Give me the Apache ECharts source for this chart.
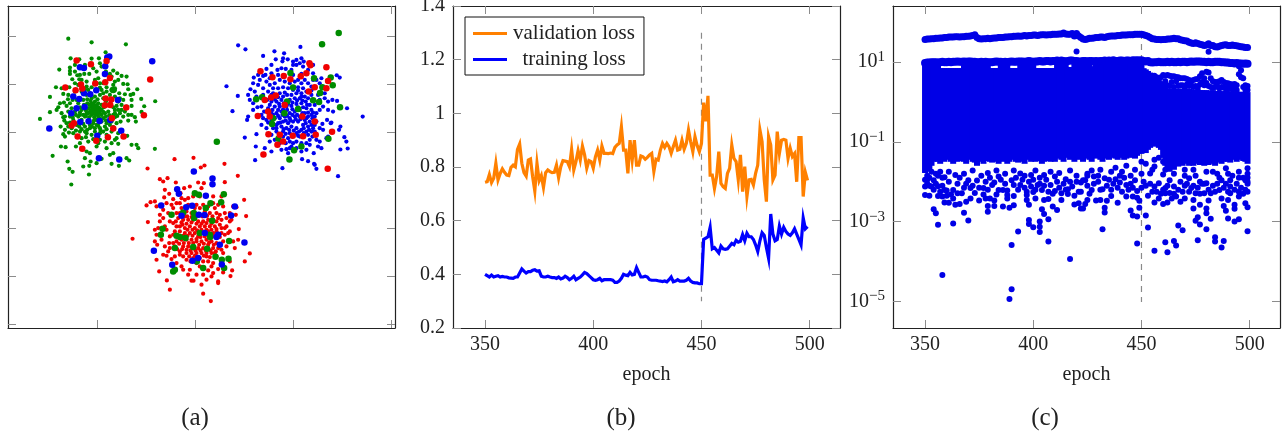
<!DOCTYPE html>
<html><head><meta charset="utf-8">
<script src="https://cdn.jsdelivr.net/npm/echarts@6/dist/echarts.min.js"></script>
<style>html,body{margin:0;padding:0;background:#fff}#c{width:1283px;height:433px}</style></head>
<body><div id="c"></div>
<script>
// ---- panel (a): unlabelled axes, values in arbitrary units
const aXTicks=[292,586,881,1176];
const aYTicks=[110,254,398,541,685,829,973];
const greenSmall=[[205,116],[275,127],[378,133],[317,157],[212,175],[238,178],[275,176],[297,175],[178,209],[210,203],[210,213],[210,222],[305,200],[340,212],[352,220],[365,228],[380,230],[217,238],[232,226],[238,238],[268,222],[253,222],[290,215],[295,235],[335,230],[355,240],[370,252],[383,253],[168,262],[185,265],[208,262],[260,260],[300,263],[345,270],[335,272],[345,265],[385,268],[412,268],[400,282],[392,285],[150,291],[190,282],[205,285],[310,280],[375,283],[360,295],[395,300],[424,297],[466,304],[180,310],[192,308],[170,330],[175,322],[200,318],[210,310],[350,318],[365,315],[380,320],[395,318],[433,319],[425,336],[150,337],[190,352],[195,350],[210,350],[240,345],[260,340],[295,340],[360,340],[370,350],[385,345],[395,345],[405,352],[408,365],[120,357],[182,380],[200,370],[205,380],[215,385],[245,388],[270,385],[300,385],[315,380],[350,370],[362,365],[385,362],[190,403],[195,410],[220,400],[240,395],[260,400],[275,405],[310,395],[335,395],[355,400],[382,408],[240,430],[265,425],[300,420],[335,430],[355,432],[395,435],[410,435],[415,445],[183,440],[197,442],[228,440],[260,455],[340,460],[320,445],[465,447],[158,468],[335,492],[357,498],[380,475],[388,482],[203,485],[255,475],[272,485],[250,500],[268,498],[208,507],[218,516],[290,490],[267,524],[214,554],[305,477],[330,465],[290,440],[270,460],[235,255],[250,300],[262,310],[275,310],[285,305],[295,310],[305,315],[275,320],[285,318],[295,322],[265,325],[275,330],[285,330],[295,332],[305,330],[265,340],[275,345],[285,342],[295,350],[305,345],[315,340],[325,335],[345,330],[250,345],[235,350],[225,335],[215,325],[245,330],[255,350],[245,360],[290,360],[280,370],[270,375],[255,380],[285,385],[295,378],[305,365],[320,370],[330,375],[340,345],[345,340],[220,360],[230,375],[210,368],[255,395],[285,395],[300,400],[320,405],[290,375],[310,355],[260,285],[275,295],[285,290],[300,285],[310,295],[330,285],[345,290],[355,305],[235,310],[245,240],[285,240],[320,262],[340,255],[335,268],[225,275],[265,270],[275,262],[310,250],[352,348],[365,330],[268,315],[281,312],[290,316],[300,326],[312,322],[258,332],[270,336],[280,338],[290,327],[299,338],[310,336],[258,348],[268,352],[283,352],[300,356],[318,350],[328,346],[240,338],[228,345],[218,352],[240,322],[252,315],[262,298],[272,303],[293,298],[318,305],[332,310],[340,322],[355,330],[345,352],[335,365],[318,362],[298,368],[282,362],[265,362],[250,372],[238,380],[262,390],[276,380],[302,392],[320,388],[340,382],[228,392],[207,398],[195,390],[193,362],[185,340],[205,335],[230,300],[218,300],[204,298],[245,275],[255,268],[290,270],[305,270],[320,275],[358,280],[370,300],[375,335],[245,415],[258,412],[280,418],[295,430],[315,425],[350,415],[225,250],[300,250],[345,245],[260,245],[240,225],[225,215],[318,215],[330,222],[280,205],[255,195],[225,195],[300,190],[345,420]];
const blueSmall=[[715,136],[737,148],[790,168],[824,154],[853,160],[828,178],[850,175],[848,184],[864,178],[902,141],[880,185],[890,180],[905,175],[912,185],[940,195],[800,207],[815,195],[833,210],[845,205],[858,207],[880,195],[890,195],[910,200],[1011,226],[1020,233],[762,233],[775,225],[790,228],[797,225],[815,220],[835,225],[680,259],[714,288],[745,285],[752,268],[750,300],[760,310],[773,322],[698,334],[745,350],[742,360],[785,320],[793,335],[985,305],[998,300],[1012,303],[1042,325],[1089,350],[1022,380],[1018,390],[735,413],[770,403],[768,440],[766,481],[795,445],[815,455],[848,505],[865,460],[860,448],[880,430],[907,478],[925,484],[943,492],[945,495],[950,507],[1015,529],[1022,449],[1044,446],[1040,425],[1034,412],[965,445],[955,440],[942,460],[920,450],[905,430],[985,410],[980,415],[993,370],[995,368],[982,360],[968,372],[970,390],[960,385],[945,350],[950,340],[960,330],[970,320],[985,330],[1000,335],[760,330],[785,345],[770,290],[800,360],[815,362],[830,375],[785,375],[800,385],[810,425],[825,420],[845,450],[870,425],[890,425],[930,420],[950,420],[960,425],[800,245],[810,255],[825,250],[840,240],[855,245],[870,250],[885,245],[895,240],[905,250],[915,240],[820,265],[835,265],[850,262],[865,265],[895,262],[910,265],[820,280],[790,285],[805,275],[840,280],[855,278],[875,285],[890,280],[905,280],[915,290],[925,295],[935,285],[830,305],[845,300],[870,300],[885,295],[900,295],[918,305],[930,315],[945,315],[810,315],[825,320],[840,320],[860,320],[875,318],[890,312],[905,310],[920,325],[935,330],[800,335],[815,340],[830,340],[845,335],[870,340],[885,335],[900,330],[915,340],[925,350],[935,345],[790,355],[825,355],[840,355],[855,350],[870,355],[885,350],[900,350],[915,360],[930,365],[945,375],[835,370],[850,365],[865,370],[880,365],[895,365],[910,375],[925,380],[940,385],[820,385],[845,380],[860,385],[875,380],[890,385],[905,390],[920,395],[935,395],[830,395],[850,395],[870,400],[890,400],[850,410],[865,415],[900,410],[925,405],[815,405],[875,440],[890,445],[930,435],[775,255],[765,275],[790,265],[950,240],[965,235],[925,250],[935,260],[955,285],[975,295],[802,300],[815,305],[825,298],[838,312],[852,310],[865,312],[878,308],[892,302],[908,302],[922,315],[805,325],[818,330],[835,330],[850,328],[862,330],[878,328],[895,322],[910,322],[925,338],[940,338],[808,350],[820,345],[835,348],[848,345],[862,348],[878,345],[892,345],[908,340],[920,355],[938,355],[805,368],[818,370],[842,368],[858,362],[872,362],[888,358],[902,358],[918,370],[935,375],[950,365],[830,385],[852,388],[868,390],[882,392],[898,395],[912,385],[928,390],[945,395],[838,405],[858,402],[878,410],[895,408],[912,400],[938,410],[840,430],[858,430],[870,445],[905,455],[920,430],[880,270],[895,272],[905,290],[920,275],[935,272],[850,290],[862,285],[835,292],[815,285],[880,225],[905,222],[875,210],[900,190],[925,210],[940,220],[960,250],[975,280],[960,300],[940,240],[760,250],[780,240],[810,235]];
const redSmall=[[443,506],[524,478],[581,474],[614,497],[603,503],[674,492],[714,528],[480,538],[503,535],[490,545],[528,548],[553,565],[595,548],[612,550],[675,547],[542,580],[508,582],[495,570],[555,600],[570,560],[520,598],[493,593],[733,600],[440,617],[452,607],[465,605],[470,620],[500,610],[540,610],[580,590],[605,565],[640,590],[665,590],[700,620],[710,622],[739,649],[708,645],[444,667],[465,690],[475,685],[490,655],[510,665],[470,705],[398,717],[472,735],[465,725],[508,730],[510,745],[525,740],[695,660],[680,680],[690,695],[717,688],[700,725],[685,700],[705,745],[735,785],[750,761],[490,765],[500,768],[470,780],[515,778],[540,765],[478,815],[501,842],[510,870],[550,810],[575,843],[581,843],[605,855],[610,882],[633,904],[620,840],[635,830],[655,845],[655,850],[670,818],[692,829],[697,812],[690,785],[640,790],[620,770],[600,800],[610,825],[625,812],[570,810],[530,790],[650,770],[670,760],[715,720],[530,640],[545,625],[560,635],[575,640],[600,625],[615,635],[630,640],[645,625],[650,640],[660,645],[675,640],[690,640],[640,660],[625,660],[610,665],[595,665],[580,660],[565,660],[550,660],[535,655],[520,670],[540,680],[555,685],[570,680],[585,685],[600,680],[615,680],[630,680],[645,680],[660,675],[675,685],[525,695],[540,695],[555,700],[570,700],[585,700],[595,710],[610,700],[625,695],[640,700],[650,695],[665,700],[530,725],[545,720],[560,720],[575,720],[590,725],[605,725],[620,720],[635,725],[650,730],[670,725],[550,740],[565,740],[580,745],[595,745],[610,745],[625,735],[640,745],[655,745],[540,755],[560,760],[575,760],[590,760],[605,760],[620,760],[635,760],[580,775],[600,775],[560,780],[625,785],[510,710],[500,690],[520,625],[505,640],[590,615],[565,615],[625,620],[670,620],[690,665],[680,740],[665,785],[548,648],[562,650],[575,652],[592,648],[608,650],[622,648],[638,650],[655,655],[528,665],[545,668],[560,672],[575,668],[590,672],[605,672],[620,670],[635,672],[650,665],[665,660],[530,680],[548,675],[563,690],[578,690],[592,692],[605,690],[620,690],[635,690],[650,688],[665,685],[520,705],[535,708],[550,708],[563,708],[578,708],[590,718],[602,712],[615,710],[630,708],[645,710],[660,712],[675,705],[520,730],[538,732],[552,730],[567,730],[580,730],[598,735],[612,732],[628,728],[642,735],[660,735],[532,748],[547,748],[560,750],[572,752],[587,752],[602,752],[618,752],[632,752],[648,755],[665,750],[550,770],[568,770],[585,768],[612,768],[630,772],[645,760],[572,785],[590,790],[610,785],[635,800],[655,808],[540,640],[555,650],[585,625],[610,615],[640,610],[655,615],[680,655],[600,590],[565,595],[545,595],[530,610],[515,615],[490,630],[480,645],[480,665],[495,680],[485,720],[495,740],[505,755],[525,770],[545,800],[590,825],[565,825],[640,820]];
const redBig=[[230,182],[273,193],[320,183],[243,254],[286,251],[316,247],[330,234],[196,263],[227,271],[247,266],[317,296],[334,299],[315,316],[331,315],[379,323],[336,355],[222,370],[215,377],[340,386],[233,410],[289,423],[371,410],[247,447],[324,412],[432,346],[451,239],[782,214],[818,232],[852,228],[872,238],[903,229],[920,220],[929,190],[932,196],[980,202],[985,243],[980,265],[945,262],[927,275],[795,300],[814,293],[828,287],[805,335],[810,350],[774,348],[855,315],[806,403],[840,405],[850,425],[833,435],[879,408],[910,409],[948,405],[997,396],[791,464],[984,507],[908,350],[945,365]];
const blueBig=[[328,170],[322,173],[240,202],[252,204],[316,199],[315,222],[289,271],[271,283],[252,280],[238,297],[254,321],[230,325],[214,340],[241,366],[266,364],[299,363],[331,360],[364,393],[292,408],[297,475],[358,479],[148,386],[457,184],[354,300],[220,290],[582,515],[638,536],[638,553],[532,568],[537,582],[618,588],[484,617],[705,620],[694,647],[577,618],[559,622],[597,645],[614,646],[545,648],[655,705],[650,712],[615,700],[734,728],[660,735],[462,753],[517,795],[666,794],[578,783],[595,775]];
const greenBig=[[285,325],[275,335],[290,340],[340,270],[872,219],[943,235],[993,233],[999,256],[968,262],[961,279],[940,301],[958,306],[1021,322],[787,292],[769,298],[820,355],[862,305],[895,327],[880,263],[854,340],[986,417],[836,417],[905,440],[883,451],[869,479],[967,133],[1017,99],[817,372],[651,426],[515,645],[550,638],[585,580],[597,585],[672,583],[664,607],[632,610],[618,625],[582,640],[583,655],[488,687],[483,705],[530,708],[540,712],[557,715],[600,700],[630,705],[631,712],[688,724],[580,742],[622,747],[647,771],[686,777],[666,780],[591,785],[610,805],[525,810],[520,815],[673,805],[637,663],[525,745]];

// ---- panel (b): one value per epoch, 350..499
const epochs=[];for(let e=350;e<500;e++)epochs.push(e);
const validationLoss=[.743,.745,.772,.742,.758,.814,.752,.776,.793,.78,.77,.768,.799,.807,.801,.866,.886,.814,.779,.766,.826,.83,.764,.71,.814,.749,.768,.724,.779,.789,.783,.779,.78,.807,.76,.801,.824,.822,.82,.801,.866,.789,.82,.861,.826,.878,.845,.795,.824,.82,.795,.838,.863,.826,.878,.851,.851,.85,.852,.85,.873,.882,.888,.95,.863,.863,.776,.9,.826,.9,.807,.807,.841,.838,.829,.836,.845,.851,.783,.829,.826,.863,.888,.873,.888,.876,.851,.876,.9,.863,.866,.9,.866,.888,.938,.894,.857,.913,.88,.857,.888,1.04,.97,1.065,.77,.77,.72,.764,.857,.739,.727,.72,.776,.795,.882,.832,.82,.752,.845,.708,.801,.69,.752,.754,.733,.776,.807,.938,.894,.752,.671,.913,.882,.752,.77,.932,.851,.9,.903,.9,.832,.87,.839,.85,.745,.91,.91,.69,.78,.75];
const trainingLoss=[.4,.395,.39,.397,.39,.393,.395,.39,.392,.39,.39,.387,.386,.385,.39,.39,.405,.42,.412,.405,.41,.41,.415,.417,.412,.413,.393,.39,.39,.393,.39,.388,.388,.385,.39,.383,.386,.393,.388,.38,.385,.393,.38,.385,.39,.398,.407,.403,.395,.388,.38,.378,.38,.385,.376,.38,.38,.38,.38,.378,.37,.37,.375,.385,.4,.397,.395,.407,.398,.4,.425,.407,.39,.39,.393,.39,.38,.378,.378,.378,.376,.375,.373,.375,.372,.38,.39,.372,.375,.38,.375,.375,.375,.378,.385,.375,.37,.368,.368,.365,.365,.53,.535,.54,.575,.495,.5,.49,.48,.505,.495,.493,.495,.505,.515,.51,.527,.52,.523,.548,.525,.553,.54,.54,.53,.51,.485,.525,.555,.545,.5,.46,.625,.55,.525,.53,.58,.55,.575,.56,.55,.545,.555,.57,.55,.53,.51,.61,.57,.578];
const bXTicks=[350,400,450,500];
const switchEpoch=450;

// ---- panel (c): log10 of the value per epoch
const cYTickExps=[-5,-3,-1,1];
const upperRibbon=[1.57,1.58,1.58,1.59,1.59,1.6,1.6,1.61,1.61,1.62,1.62,1.63,1.63,1.63,1.64,1.64,1.63,1.64,1.64,1.65,1.65,1.66,1.67,1.69,1.62,1.59,1.58,1.59,1.59,1.6,1.59,1.6,1.61,1.61,1.62,1.62,1.62,1.63,1.63,1.64,1.64,1.65,1.65,1.66,1.65,1.66,1.67,1.66,1.67,1.67,1.68,1.68,1.67,1.68,1.69,1.69,1.68,1.69,1.69,1.7,1.7,1.7,1.71,1.71,1.73,1.71,1.7,1.7,1.72,1.66,1.72,1.66,1.62,1.58,1.57,1.58,1.6,1.6,1.61,1.62,1.62,1.63,1.63,1.62,1.64,1.65,1.66,1.66,1.66,1.67,1.67,1.68,1.68,1.68,1.69,1.69,1.69,1.7,1.7,1.7,1.7,1.69,1.67,1.65,1.62,1.59,1.58,1.57,1.57,1.56,1.57,1.57,1.58,1.58,1.59,1.6,1.59,1.59,1.56,1.55,1.54,1.53,1.5,1.48,1.47,1.49,1.47,1.45,1.44,1.42,1.43,1.46,1.42,1.42,1.39,1.38,1.4,1.42,1.43,1.44,1.42,1.42,1.43,1.42,1.41,1.4,1.39,1.38,1.37,1.37];
const secondRibbon=[.98,.99,.99,1,1,1,.99,1,1.01,1,1,1.01,1,1.01,1.01,1.02,1.01,1.01,1.02,1.01,1.02,1.02,1.01,1.01,1,1,1.01,1,1.01,1,1,1,1.01,1.02,1.01,1.01,1,1.01,1,1.01,1.02,1.01,1.01,1.02,1.02,1.02,1.01,1.02,1.03,1.02,1.01,1.02,1.02,1.03,1.02,1.02,1.03,1.03,1.02,1.03,1.03,1.04,1.03,1.04,1.03,1.02,1.03,1.04,1.04,1.03,1.03,1.02,1.02,1.03,1.03,1.02,1.03,1.03,1.02,1.03,1.02,1.03,1.03,1.04,1.03,1.04,1.03,1.05,1.03,1.03,1.04,1.04,1.03,1.04,1.04,1.03,1.05,1.04,1.05,1.04,1.05,1.03,1.02,1.03,1,.99,1,1,1.01,1,1,1,1.01,1,1.01,1,1,1.01,1,1.01,1.01,1,1.01,1.02,1.01,1.02,1.02,1.02,1.01,1.01,1,1.01,1,1,1.01,1.01,1.01,1,1,.99,.99,.98,.98,.97,.98,.97,.97,.96,.97,.96];
const blobHigh=[.98,.98,.98,.98,.98,.98,.98,.85,.85,.85,.85,.85,.85,.85,.85,.85,.85,.85,.98,.98,.96,.98,.92,.98,.98,.96,.98,.98,.94,.98,.85,.85,.85,.85,.85,.96,.96,.96,.96,.85,.85,.85,.85,.85,.96,.96,.96,.96,.96,.96,.96,.85,.85,.85,.85,.85,.85,.85,.85,.85,.85,.96,.96,.96,.96,.96,.88,.87,.88,.96,.96,.9,.96,.95,.88,.96,.96,.9,.87,.96,.95,.96,.9,.96,.96,.88,.96,.96,.9,.96,.96,.96,.96,.9,.96,.96,.96,.96,.96,.96,.96,.85,.82,.78,.74,.7,.65,.6,.55,.5,.42,.4,.34,.33,.34,.32,.33,.33,.32,.34,.32,.31,.33,.32,.3,.31,.32,.3,.3,.29,.3,.28,.29,.3,.28,.27,.28,.27,.27,.28,.26,.26,.27,.25,.26,.25,.26,.25,.25,.25];
const blobLow=[-1.78,-1.75,-1.7,-1.6,-1.5,-1.45,-1.5,-1.55,-1.45,-1.5,-1.4,-1.45,-1.5,-1.55,-1.45,-1.5,-1.42,-1.48,-1.5,-1.55,-1.45,-1.42,-1.5,-1.52,-1.6,-1.45,-1.5,-1.55,-1.42,-1.48,-1.5,-1.52,-1.45,-1.5,-1.55,-1.42,-1.5,-1.45,-1.55,-1.5,-1.45,-1.42,-1.5,-1.52,-1.45,-1.5,-1.55,-1.42,-1.45,-1.5,-1.42,-1.5,-1.48,-1.45,-1.55,-1.5,-1.42,-1.48,-1.5,-1.45,-1.5,-1.42,-1.38,-1.45,-1.5,-1.4,-1.35,-1.45,-1.42,-1.5,-1.38,-1.45,-1.4,-1.5,-1.42,-1.38,-1.45,-1.5,-1.4,-1.42,-1.38,-1.45,-1.5,-1.42,-1.38,-1.45,-1.4,-1.35,-1.42,-1.45,-1.4,-1.38,-1.45,-1.42,-1.35,-1.4,-1.38,-1.42,-1.35,-1.3,-1.3,-1.25,-1.28,-1.2,-1.15,-1.1,-1.12,-1.08,-1.15,-1.2,-1.4,-1.6,-1.72,-1.75,-1.65,-1.7,-1.6,-1.62,-1.55,-1.6,-1.5,-1.55,-1.6,-1.52,-1.6,-1.55,-1.5,-1.58,-1.52,-1.6,-1.55,-1.58,-1.5,-1.55,-1.6,-1.52,-1.48,-1.55,-1.5,-1.45,-1.5,-1.52,-1.45,-1.4,-1.5,-1.45,-1.42,-1.48,-1.5,-1.55];
const waveEpochs=[456,457,458,459,460,461,462,463,464,465,466,467,468,469,470,471,472,473,474,475,476,477,478,479,480,481,482,483,484,485,486,487,488,489,490,491,492,493,494,495,496,497,498,499];
const waveUpper=[.66,.62,.58,.62,.68,.66,.68,.66,.65,.65,.63,.62,.6,.6,.6,.58,.55,.53,.55,.57,.58,.65,.72,.6,.76,.74,.6,.52,.5,.5,.52,.55,.5,.48,.47,.45,.44,.45,.42,.9,.8,.6,.42,.4];
const waveLower=[.5,.48,.38,.45,.44,.52,.42,.4,.5,.38,.52,.4,.42,.42,.36,.44,.4,.42,.38,.4,.36,.44,.5,.42,.48,.4,.38,.36,.38,.4,.34,.38,.36,.34,.32,.36,.32,.34,.3,.7,.62,.38,.3,.3];
const lowerPoints=[[358,-4.34],[390,-4.7],[389,-4.94],[390,-3.59],[417,-3.94],[407,-3.5],[393,-3.25],[403,-3.26],[403,-3.13],[403,-3],[400,-3.14],[398,-3.06],[398,-2.96],[407,-2.94],[356,-3.08],[363,-3.05],[370,-2.97],[368,-2.78],[355,-2.79],[354,-2.69],[379,-2.61],[379,-2.75],[382,-2.47],[382,-2.61],[386,-2.62],[389,-2.65],[391,-2.59],[398,-2.58],[397,-2.46],[397,-2.33],[397,-2.25],[404,-2.69],[405,-2.81],[409,-2.62],[411,-2.71],[401,-2.42],[405,-2.46],[407,-2.43],[413,-2.46],[413,-2.29],[419,-2.57],[421,-2.54],[422,-2.67],[423,-2.67],[364,-2.58],[366,-2.56],[359,-2.52],[361,-2.53],[363,-2.42],[371,-2.42],[369,-2.5],[375,-2.47],[378,-2.42],[380,-2.42],[388,-2.42],[391,-2.36],[356,-2.36],[358,-2.37],[352,-2.35],[350,-2.33],[350,-2.12],[353,-2.12],[356,-2.11],[359,-2.21],[360,-2.22],[363,-2.21],[367,-2.29],[365,-2.29],[371,-2.16],[377,-2.16],[377,-2.32],[384,-2.21],[386,-2.21],[388,-2.22],[388,-2.33],[390,-1.96],[391,-2.08],[394,-2.08],[398,-2],[400,-2.26],[402,-2.08],[404,-2.21],[407,-2.25],[410,-2.23],[416,-2.19],[416,-2.31],[419,-2.35],[421,-2.25],[423,-1.96],[422,-2.02],[415,-1.94],[410,-1.87],[405,-1.83],[399,-1.83],[394,-1.79],[384,-1.87],[381,-2.08],[374,-1.97],[370,-1.96],[364,-1.83],[359,-1.89],[357,-1.75],[354,-1.96],[350,-1.95],[351,-2.05],[351,-1.85],[352,-1.9],[355,-1.8],[361,-1.75],[368,-1.8],[372,-1.72],[376,-1.85],[379,-1.78],[383,-1.72],[387,-1.8],[391,-1.72],[396,-1.85],[401,-1.72],[403,-1.9],[408,-1.75],[412,-1.78],[417,-1.72],[420,-1.85],[425,-1.8],[427,-1.72],[432,-3.19],[453,-3.15],[448,-3.55],[456,-3.73],[462,-3.77],[461,-3.52],[465,-3.49],[466,-3.6],[467,-3.1],[469,-3.22],[476,-3.47],[484,-3.39],[484,-3.5],[488,-3.49],[487,-3.65],[499,-3.24],[480,-3.19],[475,-2.98],[476,-2.89],[477,-3.07],[482,-2.93],[490,-2.92],[493,-3],[495,-2.94],[452,-2.85],[446,-2.85],[448,-2.87],[445,-2.72],[449,-2.65],[449,-2.48],[433,-2.65],[433,-2.77],[443,-2.37],[439,-2.53],[446,-2.37],[448,-2.4],[429,-2.47],[431,-2.46],[434,-2.48],[436,-2.36],[425,-2.46],[424,-2.56],[432,-2.19],[443,-2.08],[448,-2.23],[453,-2.35],[456,-2.52],[458,-2.42],[460,-2.56],[462,-2.52],[464,-2.42],[466,-2.37],[468,-2.5],[470,-2.42],[474,-2.46],[474,-2.67],[477,-2.58],[480,-2.67],[480,-2.79],[488,-2.61],[489,-2.73],[493,-2.68],[493,-2.58],[498,-2.54],[499,-2.64],[481,-2.47],[487,-2.42],[490,-2.46],[495,-2.37],[486,-2.21],[479,-2.29],[482,-2.29],[475,-2.29],[473,-2.16],[470,-2.1],[461,-2.16],[461,-2.29],[465,-2.12],[456,-2.12],[451,-2],[447,-1.96],[440,-2.02],[438,-1.94],[433,-1.91],[427,-2.21],[424,-1.96],[428,-1.87],[490,-2.25],[491,-2.29],[495,-2.25],[499,-2.25],[498,-1.96],[491,-1.96],[487,-1.96],[480,-2.04],[477,-2],[472,-1.91],[463,-1.96],[458,-2.04],[499,-1.66],[495,-1.75],[489,-1.66],[483,-1.75],[474,-1.7],[470,-1.7],[461,-1.7],[454,-1.79],[447,-1.7],[441,-1.75],[436,-1.75],[431,-1.7],[452,-1.55],[456,-1.45],[458,-1.4],[456,-1.62],[460,-1.5],[450,-1.5],[443,-1.6],[438,-1.65],[499,-1.9],[499,-2.05],[353,-1.75],[356,-1.85],[358,-2.1],[361,-2],[362,-2.32],[365,-2.05],[366,-1.9],[368,-2.15],[369,-2.05],[372,-2.1],[373,-2.28],[375,-2.15],[378,-2],[379,-2.2],[380,-1.9],[382,-2.02],[383,-2.32],[385,-1.95],[387,-2.05],[392,-1.9],[393,-2.2],[395,-1.95],[396,-2.15],[399,-2.12],[400,-1.95],[401,-2.2],[403,-2.05],[405,-2.1],[406,-1.95],[408,-2.08],[409,-2.3],[411,-2],[412,-2.15],[414,-2.05],[415,-2.2],[417,-2],[418,-2.12],[420,-2],[422,-2.25],[425,-2.1],[426,-2.3],[428,-2.05],[430,-2],[431,-2.2],[434,-2.1],[435,-1.95],[436,-2.2],[437,-2.05],[439,-2.15],[441,-2.25],[442,-1.9],[444,-2.2],[445,-2.05],[446,-2.15],[450,-2.15],[452,-2.1],[454,-2.05],[455,-2.25],[457,-2.25],[459,-2.3],[460,-2.2],[462,-2.1],[463,-2.28],[465,-2.3],[467,-2.2],[468,-2],[469,-2.25],[471,-2.05],[472,-2.25],[474,-2.1],[476,-2.15],[477,-2.3],[478,-2.05],[479,-2.05],[481,-2.2],[483,-2.1],[484,-2.25],[485,-2.05],[486,-1.9],[488,-2.15],[489,-2.05],[491,-2.12],[492,-1.85],[493,-2.2],[494,-2.05],[496,-2.15],[497,-1.9],[497,-2.3],[498,-2.2],[499,-2],[499,-1.8],[351,-1.95],[352,-2.1],[354,-2.2],[355,-2.05],[357,-2.25],[358,-1.9],[360,-2.35],[425,-1.85],[430,-1.85],[440,-1.85],[445,-1.85],[450,-1.8],[455,-1.7],[460,-1.82],[465,-1.8],[470,-1.85],[475,-1.85],[480,-1.75],[485,-1.8],[490,-1.8],[495,-1.9]];
const outlierPoints=[[420,1.27],[481,1.26]];

const serif='"Liberation Serif","DejaVu Serif",serif';
const ink='#222';
const tick='#8c8c8c';
const toVal=e=>Math.pow(10,e);

function cartesian(grid,xExt,yExt,xTicks,yTicks,opts){
  opts=opts||{};
  const line={show:true,onZero:false,lineStyle:{color:ink,width:1.2}};
  const t=v=>({show:true,inside:true,length:8,lineStyle:{color:tick,width:1},customValues:v});
  const x=[false,true].map(top=>({
    gridIndex:grid,type:'value',min:xExt[0],max:xExt[1],position:top?'top':'bottom',
    axisLine:line,axisTick:t(xTicks),splitLine:{show:false},
    axisLabel:top||!opts.xLabels?{show:false}:{show:true,customValues:xTicks,fontFamily:serif,fontSize:20,color:ink,margin:7},
    name:top?'':(opts.xName||''),nameLocation:'middle',nameGap:37,nameTextStyle:{fontFamily:serif,fontSize:20,color:ink}
  }));
  const y=[false,true].map(right=>{
    const o={gridIndex:grid,type:opts.log?'log':'value',min:yExt[0],max:yExt[1],position:right?'right':'left',
      inverse:!!opts.inverse,
      axisLine:line,axisTick:t(yTicks),splitLine:{show:false},
      axisLabel:right||!opts.yLabels?{show:false}:Object.assign({show:true,customValues:yTicks,fontFamily:serif,fontSize:20,color:ink,margin:8},opts.yLabelExtra||{})};
    if(opts.log)o.logBase=10;
    return o;
  });
  return {x,y};
}
const pa=cartesian(0,[24,1186],[18,985],aXTicks,aYTicks,{inverse:true});
const pb=cartesian(1,[335.2,514],[.2,1.4],bXTicks,[.2,.4,.6,.8,1,1.2,1.4],{xLabels:true,yLabels:true,xName:'epoch',
  yLabelExtra:{formatter:v=>String(+v.toFixed(1))}});
const pc=cartesian(2,[335.2,514],[toVal(-5.67),toVal(2.41)],bXTicks,cYTickExps.map(toVal),{log:true,xLabels:true,yLabels:true,xName:'epoch',
  yLabelExtra:{formatter:v=>{const e=Math.round(Math.log10(v));return '{b|10}{s|'+String(e).replace('-','\u2212')+'}';},
    rich:{b:{fontFamily:serif,fontSize:20,color:ink},s:{fontFamily:serif,fontSize:15,color:ink,padding:[0,0,10,0]}}}});

const scat=(name,grid,data,color,size,z)=>({name,type:'scatter',xAxisIndex:grid*2,yAxisIndex:grid*2,data,symbolSize:size,z:z||2,
  itemStyle:{color,opacity:1},silent:true,animation:false,large:false});
const lineS=(name,vals,color)=>({name,type:'line',xAxisIndex:2,yAxisIndex:2,data:epochs.map((e,i)=>[e,vals[i]]),showSymbol:false,symbol:'none',
  lineStyle:{color,width:3.2,join:'miter',miterLimit:10,cap:'butt'},itemStyle:{color},z:3,silent:true,animation:false});
const dashed=(grid,ys)=>({type:'line',xAxisIndex:grid*2,yAxisIndex:grid*2,data:ys.map(y=>[switchEpoch,y]),symbol:'none',showSymbol:false,
  lineStyle:{color:'#8a8a8a',width:1.2,type:[6,5]},z:1,silent:true,animation:false,legendHoverLink:false});

const CBLUE='#0000e6';
const caption=(text,x)=>({text,left:x,top:406,padding:0,textAlign:'center',textStyle:{fontFamily:serif,fontSize:25,fontWeight:'normal',color:ink}});
const gridBase={top:6,width:387,height:322,containLabel:false,outerBoundsMode:'none'};

const option={
  animation:false,backgroundColor:'#fff',
  title:[caption('(a)',195),caption('(b)',621),caption('(c)',1045)],
  grid:[Object.assign({left:8},gridBase),Object.assign({left:453},gridBase),Object.assign({left:893},gridBase)],
  xAxis:[...pa.x,...pb.x,...pc.x],
  yAxis:[...pa.y,...pb.y,...pc.y],
  legend:{data:['validation loss','training loss'],left:465,top:17,orient:'vertical',
    borderColor:'#111',borderWidth:1,backgroundColor:'#fff',padding:[6,9,5,8],itemGap:5,
    icon:'rect',itemWidth:34,itemHeight:3,
    formatter:n=>'{t|'+n+'}',
    textStyle:{fontFamily:serif,fontSize:21,color:ink,rich:{t:{fontFamily:serif,fontSize:21,color:ink,width:124,align:'center'}}},selectedMode:false,z:10},
  series:[
    scat('g',0,greenSmall,'#008c00',4.2),scat('b',0,blueSmall,'#0000f0',4.2),scat('r',0,redSmall,'#f00000',4.2),
    scat('gB',0,greenBig,'#008c00',6.5,3),scat('bB',0,blueBig,'#0000f0',6.5,3),scat('rB',0,redBig,'#f00000',6.5,3),
    dashed(1,[1.3,.3]),
    lineS('validation loss',validationLoss,'#ff8000'),
    lineS('training loss',trainingLoss,'#0000ff'),
    dashed(2,[toVal(1.73),toVal(-5.02)]),
    {type:'custom',xAxisIndex:4,yAxisIndex:4,z:2,silent:true,animation:false,
     data:epochs.map((e,i)=>[e,toVal(blobLow[i]),toVal(blobHigh[i])]),
     renderItem:(p,api)=>{
       const a=api.coord([api.value(0),api.value(1)]),b=api.coord([api.value(0),api.value(2)]);
       return {type:'rect',shape:{x:a[0]-3,y:b[1],width:6,height:a[1]-b[1]},style:{fill:CBLUE,stroke:null}};
     }},
    scat('top',2,epochs.map((e,i)=>[e,toVal(upperRibbon[i])]),CBLUE,7,3),
    scat('second',2,epochs.map((e,i)=>[e,toVal(secondRibbon[i])]),CBLUE,8,3),
    scat('waveU',2,waveEpochs.map((e,i)=>[e,toVal(waveUpper[i])]),CBLUE,6,3),
    scat('waveL',2,waveEpochs.map((e,i)=>[e,toVal(waveLower[i])]),CBLUE,6,3),
    scat('low',2,lowerPoints.map(p=>[p[0],toVal(p[1])]),CBLUE,6,3),
    scat('out',2,outlierPoints.map(p=>[p[0],toVal(p[1])]),CBLUE,6,3)
  ]
};
echarts.init(document.getElementById('c')).setOption(option);
</script></body></html>
